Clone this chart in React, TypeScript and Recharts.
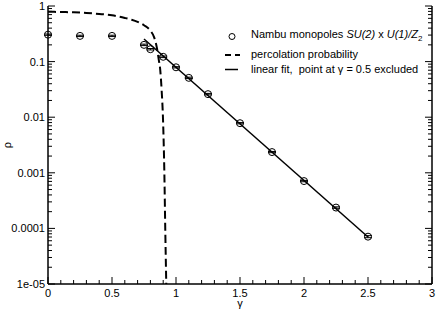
import { ComposedChart, Line, Scatter, XAxis, YAxis, ErrorBar } from 'recharts';

// Nambu monopole density vs gamma
const gamma = [0, 0.25, 0.5, 0.75, 0.8, 0.9, 1.0, 1.1, 1.25, 1.5, 1.75, 2.0, 2.25, 2.5];
const rho = [0.305, 0.29, 0.29, 0.2, 0.167, 0.122, 0.079, 0.051, 0.026, 0.0078, 0.00236, 0.00071, 0.000237, 0.000071];
const rhoErr = [0.008, 0.008, 0.008, 0.006, 0.005, 0.004, 0.002, 0.0015, 0.0008, 0.0002, 0.00006, 0.00002, 0.000007, 0.000003];

// percolation probability
const percGamma = [0, 0.1, 0.2, 0.3, 0.4, 0.5, 0.6, 0.65, 0.7, 0.75, 0.8, 0.83, 0.85, 0.865, 0.877, 0.888, 0.898, 0.909, 0.916, 0.924];
const percProb = [0.79, 0.78, 0.77, 0.75, 0.72, 0.68, 0.61, 0.57, 0.52, 0.45, 0.36, 0.27, 0.18, 0.11, 0.07, 0.03, 0.01, 0.001, 0.0001, 0.00001];

// linear fit (point at gamma = 0.5 excluded)
const fitGamma = [0.75, 2.5];
const fitRho = [0.255, 0.00007];

const xLabels = ['0', '0.5', '1', '1.5', '2', '2.5', '3'];
const yLabels = ['1e-05', '0.0001', '0.001', '0.01', '0.1', '1'];

const xTicks: number[] = [];
for (let i = 0; i <= 30; i++) xTicks.push(i / 10);
const yTicks: number[] = [];
for (let d = -5; d < 0; d++) {
  for (let m = 1; m < 10; m++) yTicks.push(m * Math.pow(10, d));
}
yTicks.push(1);

const monoData = gamma.map((g, i) => ({ x: g, y: rho[i], err: rhoErr[i] }));
const percData = percGamma.map((g, i) => ({ x: g, y: percProb[i] }));
const fitData = fitGamma.map((g, i) => ({ x: g, y: fitRho[i] }));

const W = 436;
const H = 327;
const PL = 48;
const PR = 432;
const PT = 6;
const PB = 284;
const FONT = '"Liberation Sans", Arial, sans-serif';

const isXMajor = (v: number) => Math.round(v * 10) % 5 === 0;
const yMajorIndex = (v: number) => {
  const l = Math.log10(v);
  return Math.abs(l - Math.round(l)) < 1e-6 ? Math.round(l) + 5 : -1;
};

const XTickBottom = (props: any) => {
  const { x, payload } = props;
  const major = isXMajor(payload.value);
  return (
    <g>
      <line x1={x} x2={x} y1={PB} y2={PB - (major ? 7 : 4)} stroke="#000" />
      {major && (
        <text x={x} y={PB + 13} textAnchor="middle" fontSize={11} fontFamily={FONT} fill="#000">
          {xLabels[Math.round(payload.value * 2)]}
        </text>
      )}
    </g>
  );
};

const XTickTop = (props: any) => {
  const { x, payload } = props;
  const major = isXMajor(payload.value);
  return <line x1={x} x2={x} y1={PT} y2={PT + (major ? 7 : 4)} stroke="#000" />;
};

const YTickLeft = (props: any) => {
  const { y, payload } = props;
  const idx = yMajorIndex(payload.value);
  return (
    <g>
      <line x1={PL} x2={PL + (idx >= 0 ? 7 : 4)} y1={y} y2={y} stroke="#000" />
      {idx >= 0 && (
        <text x={45} y={y + 4} textAnchor="end" fontSize={11} fontFamily={FONT} fill="#000">
          {yLabels[idx]}
        </text>
      )}
    </g>
  );
};

const YTickRight = (props: any) => {
  const { y, payload } = props;
  const major = yMajorIndex(payload.value) >= 0;
  return <line x1={PR} x2={PR - (major ? 7 : 4)} y1={y} y2={y} stroke="#000" />;
};

const OpenCircle = (props: any) => (
  <circle cx={props.cx} cy={props.cy} r={3.5} fill="none" stroke="#000" strokeWidth={1} />
);

export default function App() {
  const midY = (PT + PB) / 2;
  return (
    <div style={{ position: 'absolute', left: 0, top: 0, width: W, height: H, background: '#fff' }}>
      <ComposedChart width={W} height={H} margin={{ top: PT, right: 0, left: 0, bottom: 0 }}>
        <XAxis
          type="number"
          dataKey="x"
          domain={[0, 3]}
          ticks={xTicks}
          interval={0}
          height={43}
          axisLine={{ stroke: '#000', strokeWidth: 1.5 }}
          tickLine={false}
          tick={<XTickBottom />}
          label={{
            content: () => (
              <text x={(PL + PR) / 2} y={307} textAnchor="middle" fontSize={11} fontFamily={FONT} fill="#000">
                γ
              </text>
            ),
          }}
        />
        <XAxis
          xAxisId="top"
          orientation="top"
          type="number"
          domain={[0, 3]}
          ticks={xTicks}
          interval={0}
          height={0}
          axisLine={{ stroke: '#000', strokeWidth: 1.5 }}
          tickLine={false}
          tick={<XTickTop />}
        />
        <YAxis
          type="number"
          dataKey="y"
          scale="log"
          domain={[1e-5, 1]}
          allowDataOverflow
          ticks={yTicks}
          interval={0}
          width={PL}
          axisLine={{ stroke: '#000', strokeWidth: 1.5 }}
          tickLine={false}
          tick={<YTickLeft />}
          label={{
            content: () => (
              <text
                x={11}
                y={midY}
                textAnchor="middle"
                fontSize={11}
                fontFamily={FONT}
                fill="#000"
                transform={`rotate(-90 11 ${midY})`}
              >
                ρ
              </text>
            ),
          }}
        />
        <YAxis
          yAxisId="right"
          orientation="right"
          type="number"
          scale="log"
          domain={[1e-5, 1]}
          allowDataOverflow
          ticks={yTicks}
          interval={0}
          width={W - PR}
          axisLine={{ stroke: '#000', strokeWidth: 1.5 }}
          tickLine={false}
          tick={<YTickRight />}
        />
        <Line
          data={percData}
          dataKey="y"
          type="monotone"
          stroke="#000"
          strokeWidth={2}
          strokeDasharray="8 4"
          dot={false}
          activeDot={false}
          isAnimationActive={false}
        />
        <Line
          data={fitData}
          dataKey="y"
          type="linear"
          stroke="#000"
          strokeWidth={1.5}
          dot={false}
          activeDot={false}
          isAnimationActive={false}
        />
        <Scatter data={monoData} dataKey="y" shape={<OpenCircle />} isAnimationActive={false}>
          <ErrorBar dataKey="err" direction="y" width={4} stroke="#000" strokeWidth={1} />
        </Scatter>
      </ComposedChart>

      {/* legend, top right inside plot */}
      <div
        style={{
          position: 'absolute',
          left: 222,
          top: 27,
          fontFamily: FONT,
          fontSize: 11,
          color: '#000',
          lineHeight: '15.5px',
          whiteSpace: 'nowrap',
        }}
      >
        <div style={{ display: 'flex', alignItems: 'center' }}>
          <svg width={29} height={15}>
            <circle cx={10} cy={7.5} r={3} fill="none" stroke="#000" />
          </svg>
          <span>
            Nambu monopoles <i>SU(2)</i> x <i>U(1)/Z</i>
            <sub style={{ fontSize: 8, verticalAlign: -3 }}>2</sub>
          </span>
        </div>
        <div style={{ display: 'flex', alignItems: 'center' }}>
          <svg width={29} height={15}>
            <line x1={3} x2={18} y1={8} y2={8} stroke="#000" strokeWidth={2} strokeDasharray="6 4" />
          </svg>
          <span>percolation probability</span>
        </div>
        <div style={{ display: 'flex', alignItems: 'center' }}>
          <svg width={29} height={15}>
            <line x1={3} x2={16} y1={7.5} y2={7.5} stroke="#000" strokeWidth={1.5} />
          </svg>
          <span>linear fit,&nbsp; point at γ = 0.5 excluded</span>
        </div>
      </div>
    </div>
  );
}
